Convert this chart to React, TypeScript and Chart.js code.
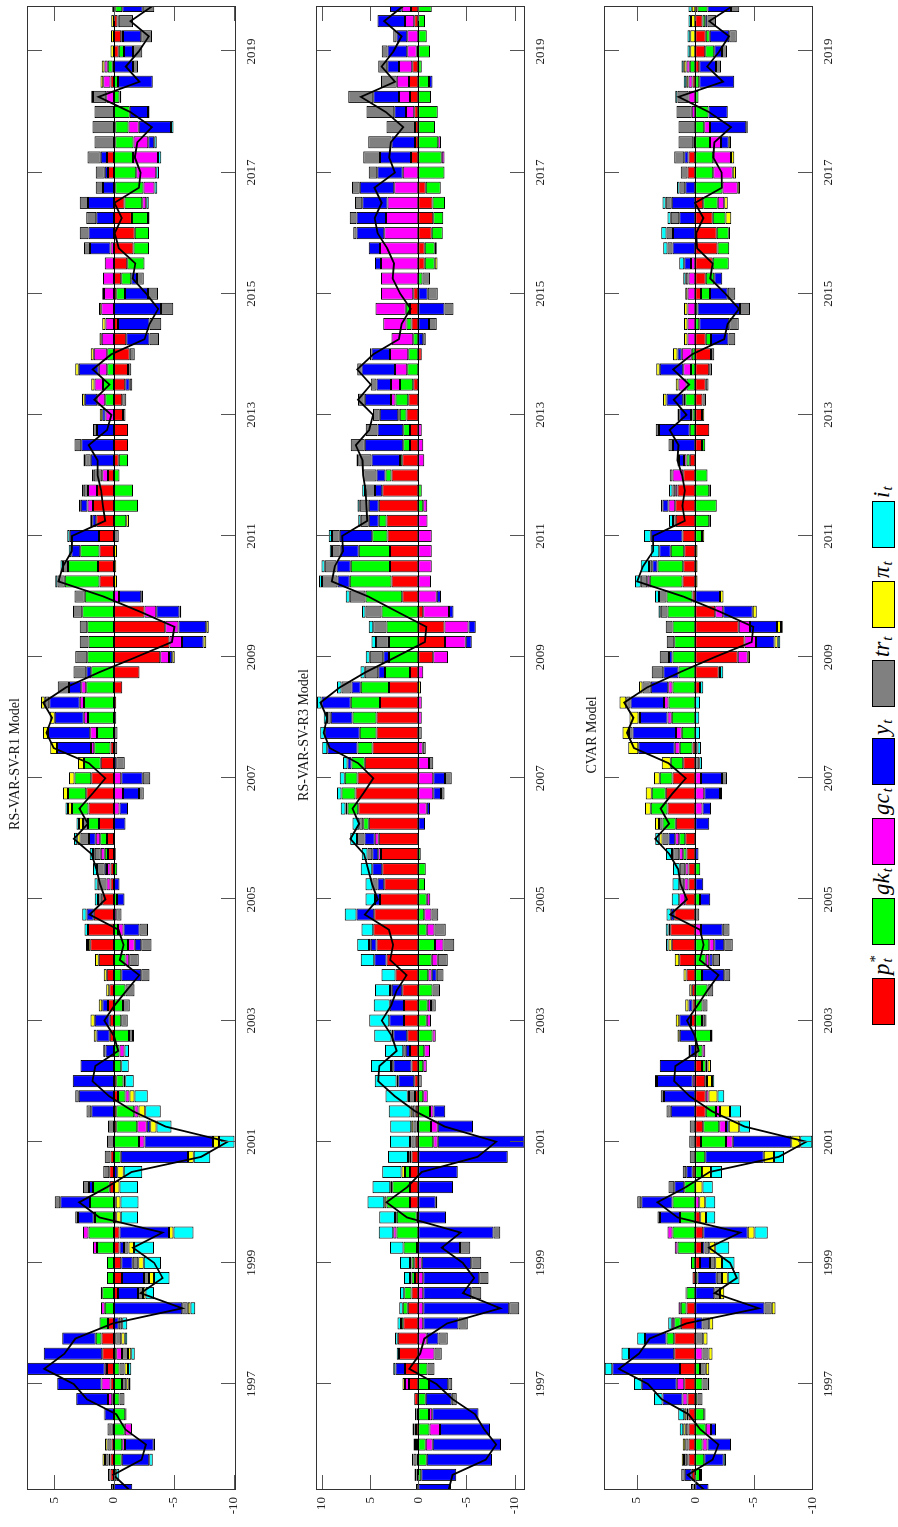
import React, { useEffect, useRef } from 'react';
import { Chart, registerables } from 'chart.js';

Chart.register(...registerables);

// ---------- categories (quarters 1995Q2 .. 2019Q4, as decimal years) ----------
const QUARTERS: number[] = Array.from({ length: 99 }, (_, k) => 1995.25 + 0.25 * k);
const YEAR_TICKS = [1997, 1999, 2001, 2003, 2005, 2007, 2009, 2011, 2013, 2015, 2017, 2019];

const SERIES_NAMES = ['p*_t', 'gk_t', 'gc_t', 'y_t', 'tr_t', 'π_t', 'i_t'];
const SERIES_COLORS = ['#ff0000', '#00ff00', '#ff00ff', '#0000ff', '#808080', '#ffff00', '#00ffff'];

// ---------- RS-VAR-SV-R1 Model ----------
const R1_P = [0,0.3,0.3,0.2,0.1,0,0.15,0.3,0.58,0.97,1.05,0.5,0,-0.33,-0.67,-0.6,-0.47,-0.47,-0.2,-0.15,0.36,0.4,0.3,0,-0.2,-0.2,-0.33,-0.2,0,0,0.36,0.36,0.5,0.4,0.6,1.28,1.98,2.17,1.7,0.97,0.3,0.3,0.5,0.58,1.25,2.12,2.31,1.9,1.11,0.3,0,0,-0.2,-0.7,-2.14,-3.87,-4.65,-4.29,-2.56,0,1.2,1.34,1.2,1.25,1.48,1.75,1.42,0.5,-0.39,-1.17,-1.17,-0.75,-0.7,-0.95,-1.17,-1.31,-1.03,-0.33,0,-0.2,-0.61,-1.11,-1.64,-1.73,-1.5,-0.89,-0.1,0.5,0.58,-0.1,-0.1,0,0,0.3,0.1,-0.39,-0.61,-0.3,-0.1];
const R1_GK = [0,-0.2,-0.65,-0.7,-0.9,-0.95,-0.47,-0.67,-0.47,-0.2,0.47,0.7,0.78,0.97,0.58,0.58,1.42,2.12,1.59,2.0,1.39,0,-0.56,-2.09,-1.75,-1.5,-0.64,-0.6,-0.6,-0.47,-1.25,-0.6,-0.75,-0.97,-0.6,-0.97,-1.17,-0.33,0,-0.25,0,-0.28,0.28,0.56,0.92,1.39,1.53,1.39,1.39,1.34,1.42,2.17,2.5,2.31,1.9,2.23,2.12,2.23,2.65,2.45,2.92,2.5,1.62,0,-1.03,-2.0,-1.59,-0.47,-0.78,0,0,0,0.72,0.92,0.56,0.56,0,0,0,-0.72,-0.84,-1.45,-1.28,-1.2,-1.34,-1.48,-2.37,-1.87,-1.59,-1.53,-1.11,-1.31,-0.47,-0.33,0.42,-0.45,-0.14,-0.1,-0.6];
const R1_GC = [0,0,0.15,-0.22,-0.6,0,0.35,0.75,0.2,-0.47,-0.1,0,0.3,0.14,0,0,0.33,0.47,0.11,0,0,0,0,-0.47,-0.78,-0.36,-0.33,0,0,-0.42,0,0,0,0,0,-0.3,-0.56,-0.47,-0.2,0,0.33,0.28,0.33,0.39,0,-0.47,-0.75,-0.6,0,0.28,0.56,0.36,0.36,0.42,0,-0.72,-1.03,-1.11,-0.97,-0.42,0,0,0,0,0,0.47,0.75,0.47,0,0,0,0.7,0.67,0.7,0.72,1.14,1.03,0.7,1.06,0.84,0.92,0.78,0.28,0,0,-0.33,-0.92,-1.67,-2.09,-1.23,-0.86,0,0.64,0.6,0.28,0,0,0,0];
const R1_Y = [-1.53,0,-2.3,-2.4,0,0.8,2.65,3.7,6.5,4.9,2.8,-0.4,-5.7,-1.67,-1.84,-0.97,-0.36,-4.12,1.31,2.5,0.33,-0.28,-5.63,-5.71,-0.3,1.9,2.95,3.45,2.8,0.7,1.11,1.25,0.47,0,-1.67,0,-0.56,-1.34,0.6,-0.64,-0.47,0.2,-0.15,0.56,-0.97,-0.7,-1.34,-1.8,-0.2,2.84,3.54,2.42,2.56,1.03,0.42,-0.28,-1.81,-2.31,-1.95,-1.87,0,0,0.75,2.45,0.33,0.56,0,0,1.95,2.73,1.42,0.28,1.06,-0.36,1.67,0,-1.95,-2.65,-3.93,-1.92,-0.47,0,1.73,2.12,1.48,2.17,0.92,0.28,0.53,-0.5,-2.7,-1.53,0,-2.92,-1.59,-0.75,-1.53,0,-1.7];
const R1_TR = [0.25,0.2,0.3,0.35,0.45,0.05,-0.4,-0.36,-0.42,-0.5,-0.5,-0.3,-0.47,-0.42,-0.42,-0.45,-0.39,0,0.22,0.45,0.5,0.5,0.47,0.58,0.5,0.4,0.28,0,0,0.2,-0.33,-0.56,-0.56,-0.75,-0.7,-0.8,-0.84,-0.7,-0.42,0.36,0.72,0.64,0.5,0.7,0.42,0,-0.39,-0.64,-0.7,-0.28,-0.3,-0.2,0.36,0.95,1.06,1.0,0.75,0.64,0.78,0.84,0.61,0.42,0,-0.39,0,0,0.36,0.72,0.45,0.56,0.33,-0.22,-0.33,-0.22,-0.28,-0.42,-0.78,-0.97,-1.03,-0.84,-0.56,0,0.5,0.75,0.84,0.7,0.61,0.75,1.11,1.62,1.8,1.62,1.11,0,-0.42,-0.78,-0.89,-1.2,-0.97];
const R1_PI = [0,0,0.2,0.2,0,0,0,-0.2,-0.28,-0.28,-0.3,0,-0.22,-0.22,-0.42,-0.47,-0.45,-0.39,-0.36,-0.4,-0.47,-0.53,-0.47,-0.5,-0.53,-0.56,-0.42,-0.15,0,0,0.22,0.36,0.3,0.25,0.25,0.3,0.2,0,0,0,0,0,0.14,0.28,0.33,0.33,0.42,0.47,0.5,0.56,0.42,0.42,0.33,0,0,-0.2,-0.22,-0.22,-0.14,-0.14,-0.25,-0.2,-0.25,0,-0.22,0,0,0,0,0,0,0.2,0.22,0.28,0.28,0.25,0.17,0.28,0.2,0.14,0,0,0,0,-0.14,0,0,0,0,0,0,0,0.14,0.22,0.22,0.3,0.25,0.22,0.15];
const R1_I = [0,-0.25,-0.3,-0.1,0,-0.1,0,-0.15,-0.28,-0.28,-0.2,-0.4,-0.4,-0.7,-1.3,-1.45,-1.67,-1.67,-1.45,-1.5,-1.53,-1.56,-1.39,-1.31,-1.25,-1.3,-1.11,-0.7,-0.64,-0.36,-0.1,0,0,0,0,0,0.15,0.3,0.36,0.28,0.28,0.33,0.28,0.28,0.22,0.22,0,0,0,0,0,0,0,0,0,0,0,0,0,0,0.17,0.2,0.2,0.2,0.17,0.14,0.14,0.14,0.14,0,0,0,0,0,0,0,0,0,0,0,0,0,0,0,0,-0.2,-0.22,-0.22,-0.28,-0.22,-0.2,-0.14,-0.14,0,0,0,0,0,0];

// ---------- RS-VAR-SV-R3 Model ----------
const R3_P = [0,0.2,0.2,0.15,0.25,0.2,0.42,0.97,1.39,2.0,2.15,1.56,1.1,0.7,0.35,0.42,0.15,0,0.17,0.87,0.87,0.87,0.7,0.28,0.2,0.28,0.35,0.42,0.7,0.87,1.15,1.5,1.5,1.67,2.36,3.3,4.34,4.69,4.58,3.99,3.54,3.75,3.89,4.1,5.14,6.25,6.53,6.32,5.56,4.76,4.34,4.34,3.99,3.06,0.87,-1.56,-2.78,-2.71,-0.52,1.67,2.78,2.95,2.95,3.19,3.3,4.1,3.75,2.78,1.67,0.87,0.87,1.22,1.04,0.52,0,-0.35,0,0.7,0.87,0.52,0,-0.66,-0.66,-1.39,-1.56,-1.46,-0.76,0,0.76,0.35,0.35,0.42,0.87,0.97,0.62,0.17,0,0.42,0.76];
const R3_GK = [0,-0.3,-0.87,-0.76,-1.15,-1.1,-0.76,-1.1,-0.94,0,0,0.25,0.52,0.76,0.35,0.28,1.4,2.26,2.08,2.43,1.84,0.52,0,-1.56,-1.32,-1.22,-0.52,0,-0.52,-0.62,-1.46,-0.87,-0.97,-1.46,-1.04,-1.39,-1.74,-0.87,-0.62,-0.87,-0.7,-0.76,-0.25,0,0.59,1.11,1.46,1.32,1.39,1.56,1.74,2.5,3.02,2.92,2.6,3.06,3.06,3.3,3.82,3.82,4.34,4.06,3.23,1.6,0.8,-0.5,-0.35,0.62,0.24,0.7,0.7,0.7,1.32,1.39,1.15,1.04,0.52,0.52,0.45,0,-0.42,-1.04,-1.04,-1.15,-1.04,-1.32,-1.56,-2.71,-2.43,-2.08,-1.74,-2.01,-1.32,-1.11,-0.35,-1.22,-0.87,-0.7,-1.39];
const R3_GC = [0,0,0,-0.73,-1.1,-0.35,0,0.42,0,-1.67,-0.87,-0.52,-0.52,-0.52,-0.52,-0.35,0,0.35,0,0,0,0,0,-0.45,-0.7,-0.35,-0.45,0,-0.35,-0.59,-0.35,-0.45,-0.35,0,-0.35,-0.62,-0.87,-0.8,-0.76,-0.38,0,0,0.28,0.42,0,-0.87,-1.56,-1.56,-1.11,-0.45,0,-0.35,-0.35,0,-0.52,-1.53,-2.15,-2.5,-2.67,-1.91,-1.32,-1.39,-1.39,-1.39,-0.94,-0.42,0,0,-0.62,-0.52,-0.35,0.17,0.49,0.94,1.28,1.91,2.26,2.43,3.13,3.37,3.89,3.89,3.99,3.54,3.37,3.19,2.5,1.63,-0.28,-0.28,0,0.87,1.15,1.28,1.39,0.97,1.15,0.97,0.97];
const R3_Y = [-3.4,-3.65,-6.77,-7.1,-5.2,-4.8,-2.7,-2.0,0.97,0,-1.22,-3.65,-8.92,-4.97,-5.8,-5.14,-4.34,-7.8,-2.87,-1.8,-3.6,-4.1,-9.3,-9.03,-3.65,-1.22,0,1.67,1.9,0.45,1.46,1.53,1.46,1.1,-0.52,1.28,0.59,0,1.84,0.52,0.7,1.04,0.62,1.08,-0.7,-0.35,-0.8,-1.22,0.42,3.13,3.65,2.26,3.06,0.97,0.7,0.59,-0.62,-0.76,-0.45,-0.45,1.28,1.49,1.88,3.37,1.04,1.04,0.76,0.94,2.95,3.99,2.67,1.91,2.71,1.49,3.47,1.91,-0.52,-1.11,-2.71,-0.97,0,0.62,1.15,2.88,3.06,2.64,3.58,2.64,3.23,2.43,0,1.22,2.67,-0.35,1.22,2.05,1.11,2.85,1.22];
const R3_TR = [0.25,0.2,0.3,0.2,0.15,0.15,-0.52,-0.42,-0.73,-0.76,-0.97,-0.97,-1.04,-1.04,-0.97,-1.04,-1.04,-0.7,0.17,-0.17,0,0,0.2,0.42,0.3,0.3,0.62,-0.35,0.24,0.24,0.17,0,-0.49,-0.8,-0.7,-1.04,-1.11,-1.18,-0.7,0,0.52,0,0.5,0.76,0.42,0,-0.35,-0.7,-0.45,-0.31,-0.35,0.38,0,1.04,1.39,1.39,1.35,1.39,1.67,1.63,1.6,1.22,0.9,0.8,0.83,0.94,1.04,1.39,1.39,1.46,1.22,0.7,0.7,0.59,0.45,0.17,-0.24,-0.8,-0.94,-1.04,-0.8,0,-0.2,0.35,0.7,0.76,0.8,0.87,1.74,2.43,2.95,2.88,2.6,1.63,0.94,0.62,0.35,0,0];
const R3_PI = [0,0,0,0,0,0,0,0.25,0,0,0,0,0,0,0.17,0.17,0,0,0,0.24,0.2,0.35,0.17,0.17,0.24,0.24,0.14,0.17,0,0,0,0,0,0.17,0,0,0.2,0,0,0,0,0,0,0,0,0.2,0,0,0,0,0,0,0,-0.28,0,0,0,0,0,0,0,0,0,0,0,0,0,0,0,0,0,0,0,0,0,0,0,0,0,0,0,-0.28,0,0,0,0,0,0,0,0,0,0,0,0,0,0,0,0,0];
const R3_I = [0,0,0.15,0.15,0.2,0,0,0,0.24,0.25,0.28,0.35,0.35,0.45,0.62,1.04,1.4,1.5,1.63,1.74,1.84,2.0,2.08,2.08,2.19,2.26,2.29,2.26,2.08,1.9,1.8,2.08,1.67,1.56,1.46,1.39,1.22,1.22,1.22,0.97,0.73,1.18,0.6,0.7,0.7,0.5,0.45,0.52,0.45,0.52,0.45,0.35,0.45,0.45,0.45,0.42,0.45,0.45,0.35,0.42,0.31,0.35,0.24,0.35,0.28,0.24,0.28,0,0.17,0,0,0,0,0,0,0,0,0,0,0,0,0,0,0,0,0,0,0,0,0,0,0,0,0,0,0,0,0,0];

// ---------- CVAR Model ----------
const CV_P = [0.15,0.3,0.57,0.57,0.57,0.57,0.66,0.94,1.29,1.8,1.8,1.23,0.74,0,0.23,-0.4,-0.57,-0.69,-0.43,0,0,0.2,0,-0.49,-0.69,-0.91,-0.91,-0.86,-0.57,-0.2,0,0.37,0.23,0.3,0.74,1.37,2.0,2.14,1.8,0.86,0.57,0.57,0.74,0.86,1.66,2.37,2.51,1.94,1.03,0.23,0,0,0,-0.4,-2.0,-3.63,-4.2,-3.71,-1.71,0.23,1.09,1.03,0.94,1.09,1.66,1.71,1.51,1.03,0.46,-0.57,-1.2,-0.57,-0.63,-0.91,-1.2,-1.34,-0.91,0,0,-0.49,-0.91,-1.49,-1.91,-1.83,-1.49,-0.69,0,0.66,0.57,0.17,0,0,0,0.23,-0.34,-0.86,-0.91,-0.63,-0.2];
const CV_GK = [0,-0.4,-0.77,-0.63,-0.91,-0.77,-0.2,-0.63,-0.4,0,0.66,0.57,0.49,0.74,-0.2,0.37,1.51,1.94,1.29,1.94,0.94,-0.57,-0.86,-2.14,-1.37,-0.86,0,-0.14,-0.34,-0.43,-1.34,-0.57,-0.63,-1.06,-0.57,-0.91,-1.2,0,0,-0.4,0,-0.43,0.29,0.51,1.14,1.43,1.2,1.09,1.06,1.09,1.14,2.0,2.29,1.94,1.43,1.94,1.8,1.94,2.37,2.23,2.8,2.2,1.14,-0.57,-1.2,-1.83,-1.2,-1.06,0.29,-0.29,0.46,0.23,0.86,0.74,0.37,0.29,-0.43,-0.34,-0.2,-0.77,-0.71,-1.37,-1.0,-1.03,-1.09,-1.23,-2.34,-1.54,-1.54,-1.26,-0.77,-1.14,-0.29,-0.34,0.46,-0.77,-0.34,-0.23,-0.86];
const CV_GC = [0,0,0.1,-0.43,-0.43,0.17,0.43,0.63,0,-0.63,0,0.2,0.2,0.1,0,0,0.23,0.43,0,-0.34,0,0,0,-0.57,-0.57,-0.34,-0.23,0.2,0,-0.23,0,0,0,0,0,-0.29,-0.43,-0.49,0,0.51,0.37,0.29,0.34,0.34,0,-0.63,-0.77,-0.49,0,0.43,0.51,0.37,0.37,0.37,-0.11,-0.86,-1.0,-0.97,-0.69,0,0.2,0,0,0,0,0.57,0.2,0.91,0.2,0,0,0.14,0.17,0.69,0.66,0.86,0.66,0.66,0.66,0.66,0.57,0.37,0,0,0,-0.57,-1.29,-1.66,-1.51,-0.94,-0.49,0.29,0.57,0.34,0.29,0,0,0,0];
const CV_Y = [-1.14,0.6,-1.66,-2.0,-0.43,0,1.71,3.0,5.8,3.86,1.83,-0.63,-5.91,-1.63,-1.63,-0.86,-0.23,-3.8,1.71,2.66,0.86,0.57,-5.0,-5.0,-0.23,2.09,2.66,3.06,3.03,0.43,1.31,1.0,0.34,0,-1.91,-0.29,-0.86,-1.86,0.29,-0.89,-0.69,0,-0.29,0.57,-1.2,-0.71,-1.34,-1.8,0,3.11,3.71,2.34,2.86,1.49,1.29,0.29,-1.57,-2.31,-2.51,-2.11,0,0.43,1.0,2.71,0,0.51,0,0,0.43,1.89,2.63,1.0,1.43,0,2.0,0.37,-1.51,-2.57,-3.63,-1.51,-0.7,0.57,1.94,1.89,1.37,2.0,0.86,0,0.37,-0.66,-3.09,-1.63,0,-3.0,-1.43,-0.66,-1.66,-0.2,-2.0];
const CV_TR = [0.2,0.3,0.28,0.28,0.23,-0.1,-0.43,-0.43,-0.51,-0.51,-0.69,-0.57,-0.63,-0.49,-0.46,-0.46,-0.4,0,0.23,0.34,0.49,0.29,0.46,0.51,0.46,0.37,0.29,0.17,-0.14,0.14,-0.14,-0.29,-0.43,-0.49,-0.51,-0.63,-0.71,-0.57,-0.34,0,0.43,0.46,0.51,0.51,0.29,0,-0.17,-0.43,-0.34,-0.2,0.29,0.14,0.37,0.71,1.0,0.8,0.63,0.57,0.57,0.63,0.57,0.29,0,0,0.23,0,0.23,0.23,0.14,0.4,0.29,0.14,-0.29,-0.23,-0.23,-0.29,-0.57,-0.8,-0.86,-0.66,0.23,0,0.43,0.57,0.71,0.51,0.49,0.57,0.86,1.26,1.43,1.31,0.94,0,-0.43,-0.43,-0.63,-0.71,-0.71];
const CV_PI = [0,0,0.2,0.22,0.23,0.2,0,-0.14,-0.29,-0.34,-0.37,-0.34,-0.31,-0.37,-0.49,-0.57,-0.51,-0.57,-0.49,-0.51,-0.63,-0.77,-0.86,-0.77,-0.91,-0.86,-0.77,-0.43,-0.29,0,0.2,0.29,0.29,0.2,0.26,0.37,0.29,0.14,0,0,0,0,0.11,0.29,0.34,0.49,0.51,0.49,0.77,0.86,0.57,0.77,0.57,0.29,0,-0.2,-0.29,-0.34,-0.34,-0.31,-0.2,-0.2,-0.2,-0.2,-0.14,0,-0.14,0,0,0,0,-0.2,0.29,0.23,0.29,0.37,0.29,0.29,0.29,0.2,0,0,0,-0.11,-0.49,-0.29,-0.2,-0.29,-0.29,-0.2,-0.14,0,0,0.2,0.23,0.43,0.43,0.37,0.29];
const CV_I = [0,-0.17,-0.2,0,0.3,0.5,0.71,0.66,0.63,0.63,0.66,0.3,0,0,-1.0,-1.06,-1.2,-1.14,-0.8,-0.86,-0.86,-0.94,-0.86,-1.03,-0.91,-0.94,-0.57,-0.2,0,0,0,-0.1,0,0,0,0,0.2,0.23,0.37,0.63,0.57,0.57,0.51,0.34,0,0,0,0,-0.23,-0.29,-0.4,-0.34,-0.4,-0.29,-0.29,0,-0.2,-0.14,0.2,0.34,0.49,0.71,0.71,0.57,0.34,0.14,0.29,0,0,0,0,0,0,0,0,0,0,0,0,0,0.23,0.43,0.37,0.43,0.29,0.29,0.2,0,0,0,0,0,0.2,0.2,0.2,0.23,0.23,0.2,0.29];

type Panel = {
  title: string;
  titleCenter: number; // horizontal centre of the title in the landscape frame
  series: number[][];
  min: number;
  max: number;
  valueTicks: number[];
  top: number; // top of the plot area inside the landscape frame
};

const PANELS: Panel[] = [
  { title: 'RS-VAR-SV-R1 Model', titleCenter: 763, series: [R1_P, R1_GK, R1_GC, R1_Y, R1_TR, R1_PI, R1_I], min: -10.2, max: 7.27, valueTicks: [-10, -5, 0, 5], top: 27 },
  { title: 'RS-VAR-SV-R3 Model', titleCenter: 792, series: [R3_P, R3_GK, R3_GC, R3_Y, R3_TR, R3_PI, R3_I], min: -11.08, max: 10.63, valueTicks: [-10, -5, 0, 5, 10], top: 316 },
  { title: 'CVAR Model', titleCenter: 792, series: [CV_P, CV_GK, CV_GC, CV_Y, CV_TR, CV_PI, CV_I], min: -10.06, max: 7.79, valueTicks: [-10, -5, 0, 5], top: 604 },
];

const W = 1527; // landscape width (becomes page height after rotation)
const H = 898;
const PLOT_LEFT = 37;
const PLOT_RIGHT = 1521;
const PLOT_H = 209;
const TOP_PAD = 27;
const XAXIS_H = 34;
const CANVAS_H = TOP_PAD + PLOT_H + XAXIS_H;
const FONT = "'Liberation Serif', 'DejaVu Serif', serif";

const framePlugin = {
  id: 'frameTicks',
  afterDatasetsDraw(chart: any) {
    const { ctx, chartArea: a, scales } = chart;
    const sy = scales.y;
    ctx.save();
    const y0 = Math.round(sy.getPixelForValue(0)) + 0.5;
    ctx.strokeStyle = '#000';
    ctx.lineWidth = 1;
    ctx.beginPath();
    ctx.moveTo(a.left, y0);
    ctx.lineTo(a.right, y0);
    ctx.stroke();
    ctx.restore();
  },
  afterDraw(chart: any) {
    const { ctx, chartArea: a, scales } = chart;
    const sx = scales.x;
    const sy = scales.y;
    const opts = chart.options.plugins.frameTicks || {};
    ctx.save();
    ctx.strokeStyle = '#555';
    ctx.lineWidth = 1;
    const TL = 15;
    ctx.beginPath();
    for (const v of YEAR_TICKS) {
      const x = Math.round(sx.getPixelForValue(v)) + 0.5;
      ctx.moveTo(x, a.top);
      ctx.lineTo(x, a.top + TL);
      ctx.moveTo(x, a.bottom);
      ctx.lineTo(x, a.bottom - TL);
    }
    for (const v of opts.valueTicks || []) {
      const y = Math.round(sy.getPixelForValue(v)) + 0.5;
      ctx.moveTo(a.left, y);
      ctx.lineTo(a.left + TL, y);
      ctx.moveTo(a.right, y);
      ctx.lineTo(a.right - TL, y);
    }
    ctx.stroke();
    ctx.strokeStyle = '#333';
    ctx.strokeRect(Math.round(a.left) + 0.5, Math.round(a.top) + 0.5, Math.round(a.right - a.left) - 1, Math.round(a.bottom - a.top) - 1);
    if (opts.title) {
      ctx.fillStyle = '#111';
      ctx.font = `14px ${FONT}`;
      ctx.textAlign = 'center';
      ctx.textBaseline = 'alphabetic';
      ctx.fillText(opts.title, opts.titleCenter, a.top - 8);
    }
    ctx.restore();
  },
};

function PanelChart({ panel }: { panel: Panel }) {
  const ref = useRef<HTMLCanvasElement | null>(null);
  useEffect(() => {
    if (!ref.current) return;
    // the black line is the sum of the seven read contributions
    const total = QUARTERS.map((_, k) => panel.series.reduce((s, arr) => s + arr[k], 0));
    const datasets: any[] = panel.series.map((arr, s) => ({
      type: 'bar',
      label: SERIES_NAMES[s],
      data: arr.map((v, k) => ({ x: QUARTERS[k], y: v === 0 ? null : v })),
      backgroundColor: SERIES_COLORS[s],
      borderColor: '#000',
      borderWidth: 1,
      borderSkipped: false,
      stack: 'components',
      barPercentage: 0.8,
      categoryPercentage: 1,
      order: 2,
      clip: 0,
    }));
    datasets.push({
      type: 'line',
      label: 'total',
      data: total.map((v, k) => ({ x: QUARTERS[k], y: v })),
      borderColor: '#000',
      borderWidth: 1.8,
      pointRadius: 0,
      tension: 0,
      fill: false,
      stack: 'total',
      order: 1,
      clip: 0,
    });
    const chart = new Chart(ref.current, {
      type: 'bar',
      data: { datasets },
      plugins: [framePlugin],
      options: {
        animation: false,
        responsive: false,
        devicePixelRatio: 1,
        events: [],
        layout: { padding: { left: 0, right: W - PLOT_RIGHT, top: TOP_PAD, bottom: 0 }, autoPadding: false },
        plugins: {
          legend: { display: false },
          title: { display: false },
          tooltip: { enabled: false },
          frameTicks: { valueTicks: panel.valueTicks, title: panel.title, titleCenter: panel.titleCenter },
        } as any,
        scales: {
          x: {
            type: 'linear',
            min: QUARTERS[0],
            max: QUARTERS[QUARTERS.length - 1],
            stacked: true,
            offset: false,
            grid: { display: false, drawTicks: false },
            border: { display: false },
            ticks: {
              padding: 8,
              color: '#222',
              font: { family: FONT, size: 13 },
              maxRotation: 0,
              autoSkip: false,
              callback: (v: any) => String(v),
            },
            afterBuildTicks: (s: any) => {
              s.ticks = YEAR_TICKS.map((v) => ({ value: v }));
            },
            afterFit: (s: any) => {
              s.height = XAXIS_H;
            },
          },
          y: {
            type: 'linear',
            min: panel.min,
            max: panel.max,
            stacked: true,
            grid: { display: false, drawTicks: false },
            border: { display: false },
            ticks: {
              padding: 7,
              color: '#222',
              font: { family: FONT, size: 13 },
              callback: (v: any) => String(v),
            },
            afterBuildTicks: (s: any) => {
              s.ticks = panel.valueTicks.map((v) => ({ value: v }));
            },
            afterFit: (s: any) => {
              s.width = PLOT_LEFT;
            },
          },
        } as any,
      },
    } as any);
    return () => chart.destroy();
  }, [panel]);
  return (
    <canvas
      ref={ref}
      width={W}
      height={CANVAS_H}
      style={{ position: 'absolute', left: 0, top: panel.top - TOP_PAD, width: W, height: CANVAS_H }}
    />
  );
}

const LEGEND_LEFTS = [502, 582, 662, 742, 820, 899, 979];
const LEGEND_BASES = ['p', 'gk', 'gc', 'y', 'tr', 'π', 'i'];

function MathLabel({ base, sup }: { base: string; sup?: string }) {
  return (
    <span style={{ fontFamily: FONT, fontStyle: 'italic', fontSize: 23, whiteSpace: 'nowrap', display: 'inline-flex', alignItems: 'flex-start' }}>
      <span>{base}</span>
      <span style={{ display: 'inline-flex', flexDirection: 'column', fontSize: 15, lineHeight: '13px', marginLeft: 1 }}>
        <span style={{ fontStyle: 'normal', height: 12 }}>{sup || '\u00a0'}</span>
        <span>t</span>
      </span>
    </span>
  );
}

function Legend() {
  return (
    <>
      {SERIES_COLORS.map((c, i) => (
        <div key={i} style={{ position: 'absolute', left: LEGEND_LEFTS[i], top: 872, display: 'flex', alignItems: 'center' }}>
          <div style={{ width: 47, height: 23, background: c, border: '1px solid #000', boxSizing: 'border-box' }} />
          <div style={{ marginLeft: 3, marginTop: -4 }} title={SERIES_NAMES[i]}>
            <MathLabel base={LEGEND_BASES[i]} sup={i === 0 ? '*' : undefined} />
          </div>
        </div>
      ))}
    </>
  );
}

export default function App() {
  return (
    <div style={{ position: 'fixed', left: 0, top: 0, width: H, height: W, overflow: 'hidden', background: '#fff' }}>
      <div
        style={{
          position: 'absolute',
          left: 0,
          top: 0,
          width: W,
          height: H,
          transformOrigin: '0 0',
          transform: `translateY(${W}px) rotate(-90deg)`,
          background: '#fff',
        }}
      >
        {PANELS.map((p) => (
          <PanelChart key={p.title} panel={p} />
        ))}
        <Legend />
      </div>
    </div>
  );
}
